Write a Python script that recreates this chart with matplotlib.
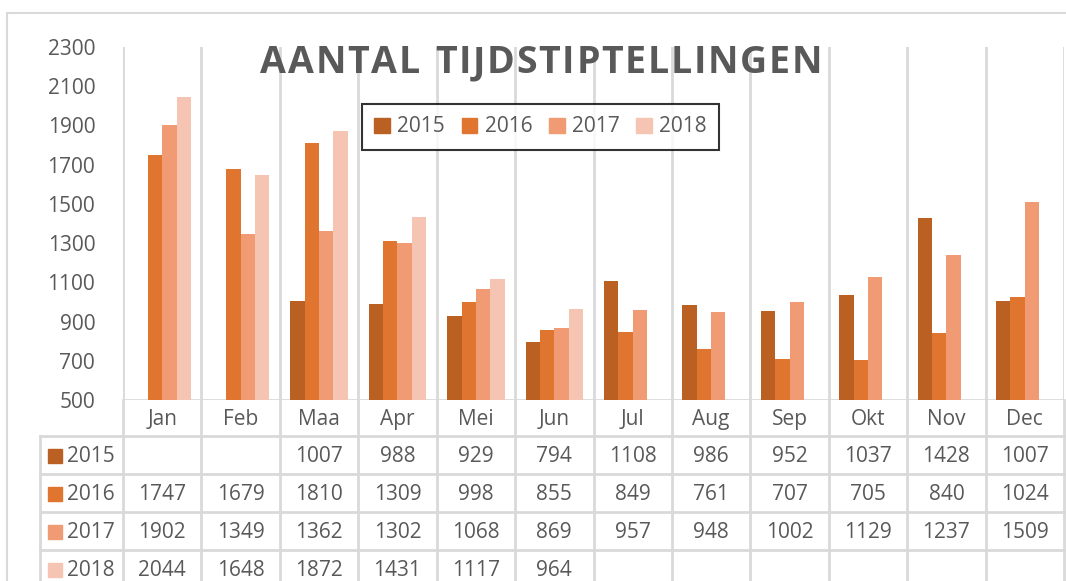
import numpy as np
import matplotlib
matplotlib.use("Agg")
import matplotlib.pyplot as plt
from matplotlib.patches import Rectangle

months = ["Jan", "Feb", "Maa", "Apr", "Mei", "Jun", "Jul", "Aug", "Sep", "Okt", "Nov", "Dec"]
years = ["2015", "2016", "2017", "2018"]
v2015 = [np.nan, np.nan, 1007, 988, 929, 794, 1108, 986, 952, 1037, 1428, 1007]
v2016 = [1747, 1679, 1810, 1309, 998, 855, 849, 761, 707, 705, 840, 1024]
v2017 = [1902, 1349, 1362, 1302, 1068, 869, 957, 948, 1002, 1129, 1237, 1509]
v2018 = [2044, 1648, 1872, 1431, 1117, 964, np.nan, np.nan, np.nan, np.nan, np.nan, np.nan]
series = [v2015, v2016, v2017, v2018]
colors = ["#BA6023", "#E0752F", "#F09B73", "#F6C4B2"]
yticks = [500, 700, 900, 1100, 1300, 1500, 1700, 1900, 2100, 2300]
title = "AANTAL TIJDSTIPTELLINGEN"

FONT = "Open Sans"
TXT = "#595959"
GRID = "#D9D9D9"
W, H = 1066, 581
fig = plt.figure(figsize=(W / 100, H / 100), dpi=100)
fig.patch.set_facecolor("white")

def fx(px):
    return px / W

def fy(py):
    return 1 - py / H

# outer chart border
fig.add_artist(Rectangle((fx(7), fy(600)), fx(1070) - fx(7), fy(13) - fy(600),
                         transform=fig.transFigure, fill=False, edgecolor=GRID, lw=1.5))

L, R, T, B = 123, 1064, 47, 400
ax = fig.add_axes([fx(L), fy(B), fx(R) - fx(L), fy(T) - fy(B)])
n = len(months)
x = np.arange(n)
bw = 0.183
for i, (vals, c) in enumerate(zip(series, colors)):
    ax.bar(x + (i - 1.5) * bw, vals, width=bw, color=c, zorder=3, label=years[i])
ax.set_xlim(-0.5, n - 0.5)
ax.set_ylim(yticks[0], yticks[-1])
ax.set_yticks(yticks)
ax.set_yticklabels([str(t) for t in yticks], fontsize=15, color=TXT, fontname=FONT)
ax.tick_params(axis="y", length=0, pad=20)
ax.set_xticks([])
for s in ax.spines.values():
    s.set_visible(False)
for b in np.arange(-0.5, n, 1.0):
    ax.axvline(b, color=GRID, lw=2, zorder=1)
ax.axhline(yticks[0], color=GRID, lw=2, zorder=2)

# legend
handles = [Rectangle((0, 0), 1, 1, color=c) for c in colors]
leg = fig.legend(handles, years, loc="upper left", bbox_to_anchor=(fx(362), fy(104)),
                 ncol=4, frameon=True, fancybox=False, handlelength=0.75, handleheight=0.75,
                 handletextpad=0.35, columnspacing=0.8, borderpad=0.6, borderaxespad=0,
                 prop={"family": FONT, "size": 15})
leg.get_frame().set_edgecolor("black")
leg.get_frame().set_linewidth(1.5)
for t in leg.get_texts():
    t.set_color(TXT)

# table axes
TL = 40
unit = (R - L) / n
tab = fig.add_axes([fx(TL), 0, fx(R) - fx(TL), fy(B)])
tab.set_xlim(-0.5 - (L - TL) / unit, n - 0.5)
tab.set_ylim(H, B)
tab.axis("off")
rows_y = [B, 436, 474, 512, 550, 588]
for b in np.arange(-0.5, n, 1.0):
    tab.plot([b, b], [B, H + 5], color=GRID, lw=2, clip_on=False)
xl = -0.5 - (L - TL) / unit
tab.plot([xl, xl], [rows_y[1], H + 5], color=GRID, lw=2, clip_on=False)
for ry in rows_y[1:5]:
    tab.plot([xl, n - 0.5], [ry, ry], color=GRID, lw=2, clip_on=False)
for j, m in enumerate(months):
    tab.text(j, (rows_y[0] + rows_y[1]) / 2 + 1, m, ha="center", va="center",
             fontsize=15, color=TXT, fontname=FONT)
for i, vals in enumerate(series):
    yc = (rows_y[i + 1] + rows_y[i + 2]) / 2 + 1
    sq = 14 / unit
    tab.add_patch(Rectangle((xl + 8 / unit, yc - 7), sq, 14, color=colors[i], clip_on=False))
    tab.text(xl + 27 / unit, yc, years[i], ha="left", va="center", fontsize=15,
             color=TXT, fontname=FONT)
    for j, v in enumerate(vals):
        if not np.isnan(v):
            tab.text(j, yc, str(int(v)), ha="center", va="center", fontsize=15,
                     color=TXT, fontname=FONT)

# title with letter spacing
fig.canvas.draw()
r = fig.canvas.get_renderer()
fs = 27
chars = list(title)
widths = []
for ch in chars:
    if ch == " ":
        tt = fig.text(0, 0, "A", fontsize=fs, fontweight="bold", fontname=FONT)
        w = tt.get_window_extent(r).width * 0.45
        tt.remove()
    else:
        tt = fig.text(0, 0, ch, fontsize=fs, fontweight="bold", fontname=FONT)
        w = tt.get_window_extent(r).width
        tt.remove()
    widths.append(w)
x0, x1 = 260, 822
sp = ((x1 - x0) - sum(widths)) / (len(chars) - 1)
cx = x0
for ch, w in zip(chars, widths):
    if ch != " ":
        fig.text(fx(cx), fy(63), ch, fontsize=fs, fontweight="bold", fontname=FONT,
                 color=TXT, ha="left", va="center", zorder=5)
    cx += w + sp

fig.savefig("out.png", dpi=100, facecolor="white")
